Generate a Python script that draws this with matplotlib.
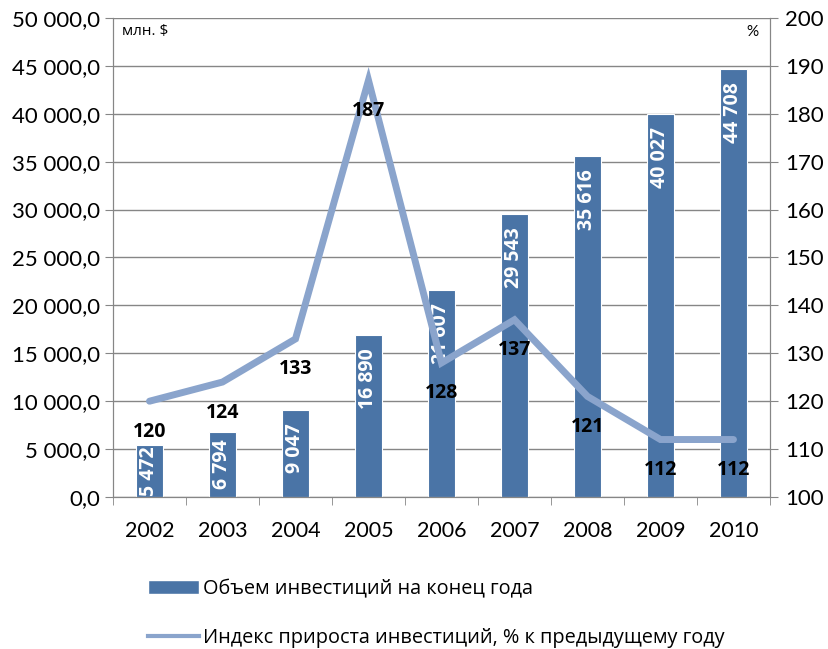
import matplotlib
matplotlib.use("Agg")
import matplotlib.pyplot as plt
from matplotlib.patches import Patch
from matplotlib.lines import Line2D
from matplotlib.ticker import FuncFormatter

plt.rcParams["font.family"] = ["Lato", "Open Sans", "DejaVu Sans"]

years = ["2002", "2003", "2004", "2005", "2006", "2007", "2008", "2009", "2010"]
volume = [5472, 6794, 9047, 16890, 21607, 29543, 35616, 40027, 44708]
growthIndex = [120, 124, 133, 187, 128, 137, 121, 112, 112]

barLabel = "Объем инвестиций на конец года"
lineLabel = "Индекс прироста инвестиций, % к предыдущему году"

barColor = "#4A74A6"
lineColor = "#8AA4CC"
gridColor = "#868686"
boldFont = ["Open Sans", "DejaVu Sans"]


def spaced(v, decimals=0):
    s = f"{v:,.{decimals}f}".replace(",", " ").replace(".", ",")
    return s


fig = plt.figure(figsize=(8.29, 6.49), dpi=100)
ax = fig.add_axes([0.1363, 0.2342, 0.7925, 0.7381])
ax2 = ax.twinx()

x = list(range(len(years)))
ax.bar(x, volume, width=0.37, color=barColor, edgecolor="white", linewidth=0.8, zorder=2)
ax.set_xlim(-0.5, len(years) - 0.5)
ax.set_ylim(0, 50000)
ax.set_yticks(range(0, 50001, 5000))
ax.yaxis.set_major_formatter(FuncFormatter(lambda v, _: spaced(v, 1)))
ax.grid(axis="y", color=gridColor, linewidth=1, zorder=0)
ax.set_axisbelow(True)

ax.set_xticks(x)
ax.set_xticklabels(years)
ax.set_xticks([i - 0.5 for i in range(len(years) + 1)], minor=True)
ax.tick_params(axis="x", which="major", length=0, pad=17, labelsize=15.5)
ax.tick_params(axis="x", which="minor", length=6, color=gridColor)
ax.tick_params(axis="y", length=6, color=gridColor, labelsize=16, pad=3)

for spine in ["top"]:
    ax.spines[spine].set_visible(False)
    ax2.spines[spine].set_visible(False)
for a in (ax, ax2):
    a.spines["left"].set_color(gridColor)
    a.spines["right"].set_color(gridColor)
    a.spines["bottom"].set_color(gridColor)

# bar value labels: inside end, moved down into the bar when it is short
renderer = fig.canvas.get_renderer()
pxPerUnit = ax.get_window_extent().height / 50000
for xi, v in zip(x, volume):
    t = ax.annotate(spaced(v), (xi, v), xytext=(0, -9.5), textcoords="offset points",
                    rotation=90, ha="center", va="top", color="white",
                    fontsize=14, fontweight="bold", family=boldFont, zorder=3)
    textPx = t.get_window_extent(renderer).height
    barPx = v * pxPerUnit
    gapPx = min(9.5 * 100 / 72, max((barPx - textPx) / 2, 1))
    t.xyann = (0, -gapPx * 72 / 100)

ax2.plot(x, growthIndex, color=lineColor, linewidth=5, solid_capstyle="round",
         solid_joinstyle="miter", zorder=4)
ax2.set_ylim(100, 200)
ax2.set_yticks(range(100, 201, 10))
ax2.tick_params(axis="y", length=6, color=gridColor, labelsize=16, pad=5)

for xi, v in zip(x, growthIndex):
    ax2.annotate(str(v), (xi, v), xytext=(0, -22), textcoords="offset points",
                 ha="center", va="center", color="black",
                 fontsize=14, fontweight="bold", family=boldFont, zorder=5)

fig.text(0.147, 0.951, "млн. $", fontsize=11, va="center", ha="left",
         family=["Open Sans", "DejaVu Sans"])
fig.text(0.915, 0.951, "%", fontsize=11, va="center", ha="right")

handles = [
    Patch(facecolor=barColor, edgecolor="white"),
    Line2D([0], [0], color=lineColor, linewidth=3),
]
fig.legend(handles, [barLabel, lineLabel], loc="upper left",
           bbox_to_anchor=(0.178, 0.108), frameon=False,
           prop={"family": ["Open Sans", "DejaVu Sans"], "size": 14.3},
           handlelength=2.6, handletextpad=0.2, labelspacing=1.45,
           borderaxespad=0, borderpad=0)

fig.savefig("out.png", dpi=100)
